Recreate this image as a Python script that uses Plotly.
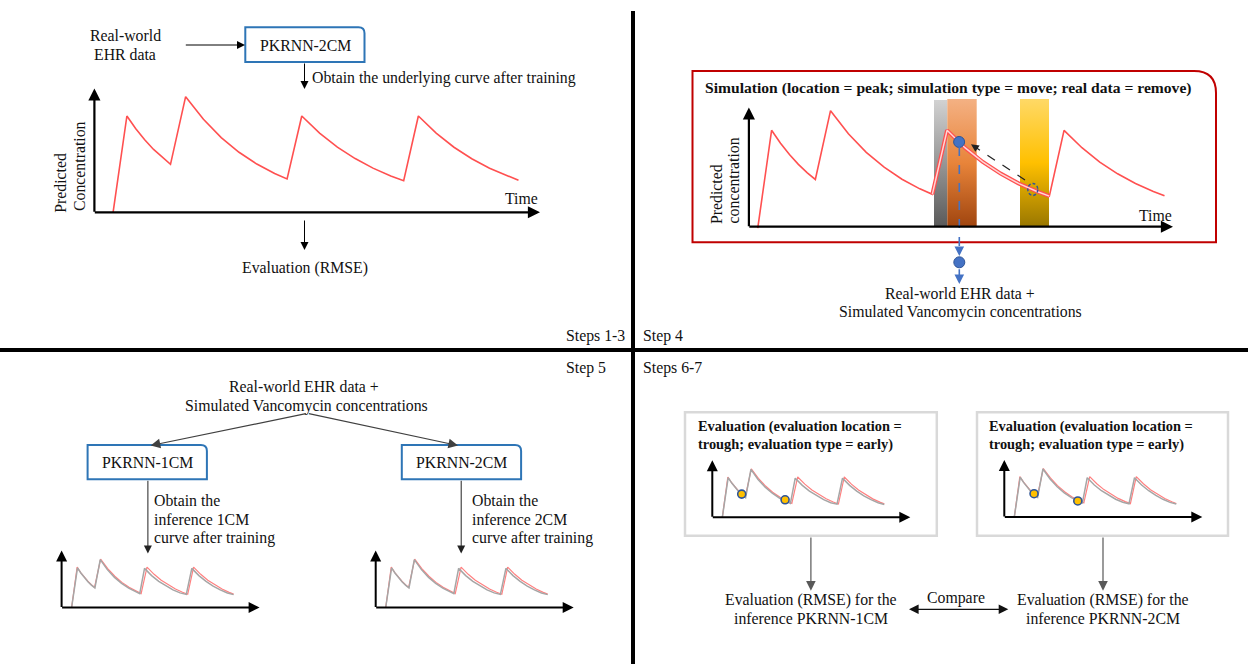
import plotly.graph_objects as go

W, H = 1248, 664
FONT = "Liberation Serif, Times New Roman, serif"

# ---------------- data ----------------
# underlying (true) concentration-time curve, arbitrary units
T_TRUE = [4.2, 7.3, 9.3, 11.3, 13.3, 15.3, 17.1, 20.5, 24.5, 28.5, 32.5, 36.5, 40.5, 43.3,
          46.6, 50.6, 54.6, 58.6, 62.6, 66.6, 69.5, 72.8, 76.8, 80.8, 84.8, 88.8, 92.8, 95.3]
C_TRUE = [0, 78.3, 67.9, 58.9, 51.1, 44.3, 39.0, 94.0, 75.6, 60.7, 48.8, 39.2, 31.5, 27.1,
          78.3, 64.4, 53.0, 43.7, 35.9, 29.6, 25.7, 78.3, 64.4, 52.9, 43.5, 35.8, 29.4, 26.0]
# inferred curve after training (grey)
T_INF = [4.2, 7.5, 9.5, 11.5, 13.5, 15.5, 17.3, 20.3, 24.3, 28.3, 32.3, 36.3, 40.3, 42.5,
         45.2, 49.2, 53.2, 57.2, 61.2, 65.2, 68.7, 71.8, 75.8, 79.8, 83.8, 87.8, 91.8, 95.3]
C_INF = [0, 77.0, 66.5, 57.5, 49.5, 43.0, 38.0, 93.0, 73.5, 58.5, 46.8, 37.5, 30.2, 27.0,
         76.0, 62.0, 50.8, 41.8, 34.3, 28.4, 25.5, 76.0, 62.0, 50.8, 41.6, 34.2, 28.2, 25.0]
HL_START, HL_END = 13, 21          # highlighted dosing interval (trough -> trough)
SIM_T, SIM_C = [49.3], [69.0]      # simulated (moved) peak point
MOVED_T, MOVED_C = [65.8], [31.0]  # removed real data point
EVAL1_T, EVAL1_C = [15.1, 39.5], [45.0, 34.0]
EVAL2_T, EVAL2_C = [15.3, 39.9], [45.0, 31.0]

RED = "#ff5050"
RED_LIGHT = "#ff8080"
GREY = "#a6a6a6"
BLUE = "#2e75b6"
DOTBLUE = "#4472c4"
FS = 15.8

fig = go.Figure()
axes = {}


def panel(n, ax, bx, ay, by, box):
    px0, px1, pyt, pyb = box
    axes[f"xaxis{n}"] = dict(domain=[px0 / W, px1 / W], range=[(px0 - ax) / bx, (px1 - ax) / bx],
                             anchor=f"y{n}", visible=False, fixedrange=True)
    axes[f"yaxis{n}"] = dict(domain=[1 - pyb / H, 1 - pyt / H], range=[(ay - pyb) / by, (ay - pyt) / by],
                             anchor=f"x{n}", visible=False, fixedrange=True)
    return f"x{n}", f"y{n}"


def mini(n, ox, oy):
    return panel(n, ox + 2.55, 1.778, oy, 0.515, (ox - 2, ox + 200, oy - 60, oy + 3))


def line(xr, yr, xs, ys, color, width):
    fig.add_trace(go.Scatter(x=xs, y=ys, xaxis=xr, yaxis=yr, mode="lines",
                             line=dict(color=color, width=width), hoverinfo="skip", showlegend=False))


# gradient bars in the simulation panel (base pixel axes)
def grad_rect(x0, x1, y0, y1, scale):
    fig.add_trace(go.Scatter(x=[x0, x1, x1, x0, x0], y=[y0, y0, y1, y1, y0], mode="lines",
                             line=dict(width=0, color="rgba(0,0,0,0)"), fill="toself",
                             fillcolor="#e8843a",
                             fillgradient=dict(type="vertical", colorscale=scale, start=y0, stop=y1),
                             hoverinfo="skip", showlegend=False))


grad_rect(934, 947.3, 100, 226.7, [[0, "#d2d2d2"], [1, "#5a5a5a"]])
grad_rect(947.3, 976.7, 99, 226.7, [[0, "#f4b183"], [0.5, "#e8843a"], [1, "#a0450f"]])
grad_rect(1020, 1049, 99, 226.7, [[0, "#ffd966"], [0.5, "#ffc000"], [1, "#997700"]])

# top-left panel
xa, ya = panel(2, 94.4, 4.45, 212.3, 1.23, (88, 545, 85, 216))
line(xa, ya, T_TRUE, C_TRUE, RED, 1.6)

# top-right panel
xa, ya = panel(3, 739, 4.465, 228.2, 1.25, (742, 1180, 100, 232))
line(xa, ya, T_TRUE, C_TRUE, RED, 1.6)
line(xa, ya, T_TRUE[HL_START:HL_END], C_TRUE[HL_START:HL_END], RED, 4)
line(xa, ya, T_TRUE[HL_START:HL_END], C_TRUE[HL_START:HL_END], "#ffd6d6", 1.5)
fig.add_trace(go.Scatter(x=SIM_T, y=SIM_C, xaxis=xa, yaxis=ya, mode="markers",
                         marker=dict(size=11, color=DOTBLUE, line=dict(color="#2f5597", width=1)),
                         hoverinfo="skip", showlegend=False))
MOVED_PANEL = (xa, ya)

# mini panels
for n, ox, oy, dots in [(4, 61.6, 607.5, None), (5, 375.7, 607.5, None),
                        (6, 712.3, 517.3, (EVAL1_T, EVAL1_C)), (7, 1004.3, 516.9, (EVAL2_T, EVAL2_C))]:
    xa, ya = mini(n, ox, oy)
    line(xa, ya, T_TRUE, C_TRUE, RED_LIGHT, 1.2)
    line(xa, ya, T_INF, C_INF, GREY, 1.5)
    if dots:
        fig.add_trace(go.Scatter(x=dots[0], y=dots[1], xaxis=xa, yaxis=ya, mode="markers",
                                 marker=dict(size=8, color="#ffc000", line=dict(color="#2f5597", width=1.6)),
                                 hoverinfo="skip", showlegend=False))

shapes = []
annotations = []


def arrow(x0, y0, x1, y1, color="#000000", width=1.0, size=1.6, both=False):
    annotations.append(dict(x=x1, y=y1, ax=x0, ay=y0, xref="x", yref="y", axref="x", ayref="y",
                            text="", showarrow=True, arrowhead=2, arrowsize=size, arrowwidth=width,
                            arrowcolor=color, arrowside="end+start" if both else "end",
                            startarrowhead=2, startarrowsize=size))


def txt(x, y, s, size=FS, xanchor="center", bold=False, angle=0, color="#111111"):
    annotations.append(dict(x=x, y=y, xref="x", yref="y", text=f"<b>{s}</b>" if bold else s,
                            showarrow=False, xanchor=xanchor, yanchor="middle", textangle=angle,
                            font=dict(family=FONT, size=size, color=color)))


def rounded_box(x0, y0, x1, y1, r, color, width):
    path = (f"M {x0},{y0} L {x1 - r},{y0} Q {x1},{y0} {x1},{y0 + r} "
            f"L {x1},{y1} L {x0},{y1} Z")
    shapes.append(dict(type="path", path=path, xref="x", yref="y",
                       line=dict(color=color, width=width), fillcolor="rgba(0,0,0,0)", layer="below"))


def seg(x0, y0, x1, y1, color, width, dash="solid"):
    shapes.append(dict(type="line", x0=x0, y0=y0, x1=x1, y1=y1, xref="x", yref="y",
                       line=dict(color=color, width=width, dash=dash)))


# separators
seg(633, 11, 633, 664, "#000000", 4)
seg(0, 350, 1248, 350, "#000000", 4)
txt(564, 336, "Steps 1-3", xanchor="left")
txt(641, 336, "Step 4", xanchor="left")
txt(564, 368, "Step 5", xanchor="left")
txt(641, 368, "Steps 6-7", xanchor="left")

# ---- steps 1-3 ----
txt(125, 35, "Real-world")
txt(125, 54.3, "EHR data")
rounded_box(245.3, 27.3, 364.5, 62, 6, BLUE, 2)
txt(305, 45, "PKRNN-2CM")
arrow(184.3, 45, 245, 45)
arrow(304.5, 62, 304.5, 89)
txt(310, 78, "Obtain the underlying curve after training", xanchor="left")
arrow(94.4, 213.3, 94.4, 88.5, width=2.2, size=1.1)
arrow(93.3, 212.3, 540, 212.3, width=2.2, size=1.1)
txt(521.8, 198, "Time")
txt(60.3, 182.5, "Predicted", angle=-90)
txt(78.8, 166.2, "Concentration", angle=-90)
arrow(304.5, 219, 304.5, 250)
txt(304.5, 268, "Evaluation (RMSE)")

# ---- step 4 ----
rounded_box(692.5, 71, 1216, 242.3, 22, "#c00000", 2)
txt(703.4, 88.3, "Simulation (location = peak; simulation type = move; real data = remove)",
    size=15.6, xanchor="left", bold=True)
arrow(748.9, 227.7, 748.9, 107.5, width=2.2, size=1.1)
arrow(747.8, 226.7, 1173, 226.7, width=2.2, size=1.1)
txt(1155.2, 215, "Time")
txt(716, 194, "Predicted", angle=-90)
txt(733.4, 180, "concentration", angle=-90)
shapes.append(dict(type="circle", xref=MOVED_PANEL[0], yref=MOVED_PANEL[1], xsizemode="pixel",
                   ysizemode="pixel", xanchor=MOVED_T[0], yanchor=MOVED_C[0], x0=-5, x1=5, y0=-6, y1=6,
                   line=dict(color="#2f5597", width=1.4, dash="3px,2px"), layer="above"))
seg(1025, 180, 975.5, 147.3, "#222222", 1.2, "dash")
arrow(977, 148.3, 971, 144.3, color="#222222", width=1.2, size=1.3)
seg(959.3, 147, 959.3, 251, DOTBLUE, 1.6, "dash")
arrow(959.3, 249, 959.3, 256, color=DOTBLUE, width=1.6, size=1.2)
shapes.append(dict(type="circle", x0=953.8, x1=964.8, y0=256.8, y1=267.8, xref="x", yref="y",
                   fillcolor=DOTBLUE, line=dict(color="#2f5597", width=1)))
arrow(959.3, 267.8, 959.3, 284, color=DOTBLUE, width=1.6, size=1.2)
txt(960, 293.3, "Real-world EHR data +")
txt(960, 311.7, "Simulated Vancomycin concentrations")

# ---- step 5 ----
txt(304.3, 386.7, "Real-world EHR data +")
txt(306.3, 406, "Simulated Vancomycin concentrations")
arrow(307.4, 413.3, 150.7, 445.5, color="#404040", width=1.2)
arrow(307.4, 413.3, 458, 445.5, color="#404040", width=1.2)
rounded_box(87.6, 445, 206.9, 479.3, 6, BLUE, 2)
rounded_box(401.8, 445, 521.1, 479.3, 6, BLUE, 2)
txt(147.2, 462.2, "PKRNN-1CM")
txt(461.5, 462.2, "PKRNN-2CM")
arrow(147.9, 479.3, 147.9, 553.5, color="#222222", width=1)
arrow(461.2, 479.3, 461.2, 553.5, color="#222222", width=1)
for x0, lab in [(151.9, "1CM"), (470, "2CM")]:
    txt(x0, 500, "Obtain the", xanchor="left")
    txt(x0, 519, f"inference {lab}", xanchor="left")
    txt(x0, 538.3, "curve after training", xanchor="left")
for ox, oy in [(61.6, 607.5), (375.7, 607.5)]:
    arrow(ox, oy + 1, ox, oy - 57, width=2, size=1.1)
    arrow(ox - 1, oy, ox + 198, oy, width=2, size=1.1)

# ---- steps 6-7 ----
for bx0, bx1 in [(685, 936.8), (977, 1228)]:
    shapes.append(dict(type="rect", x0=bx0, x1=bx1, y0=412.3, y1=535.7, xref="x", yref="y",
                       line=dict(color="#d9d9d9", width=2.5), layer="below"))
for tx in [695.6, 986.8]:
    txt(tx, 426.7, "Evaluation (evaluation location =", size=14.4, xanchor="left", bold=True)
    txt(tx, 444.3, "trough; evaluation type = early)", size=14.4, xanchor="left", bold=True)
for ox, oy in [(712.3, 517.3), (1004.3, 516.9)]:
    arrow(ox, oy + 1, ox, oy - 57, width=2, size=1.1)
    arrow(ox - 1, oy, ox + 198, oy, width=2, size=1.1)
arrow(810.9, 536, 810.9, 590.7, color="#595959", width=1.2)
arrow(1103, 536, 1103, 590.7, color="#595959", width=1.2)
txt(810.5, 600, "Evaluation (RMSE) for the")
txt(810.5, 618.7, "inference PKRNN-1CM")
txt(1103, 600, "Evaluation (RMSE) for the")
txt(1103, 618.7, "inference PKRNN-2CM")
txt(956, 597.7, "Compare")
arrow(907.5, 609.3, 1008.3, 609.3, color="#111111", width=1.2, both=True)

fig.update_layout(
    width=W, height=H, margin=dict(l=0, r=0, t=0, b=0),
    paper_bgcolor="white", plot_bgcolor="rgba(0,0,0,0)", showlegend=False,
    xaxis=dict(range=[0, W], domain=[0, 1], visible=False, fixedrange=True),
    yaxis=dict(range=[H, 0], domain=[0, 1], visible=False, fixedrange=True),
    shapes=shapes, annotations=annotations, **axes,
)

fig.write_html("out.html", config={"displayModeBar": False},
               post_script="document.body.style.margin='0';document.body.style.overflow='hidden';")
